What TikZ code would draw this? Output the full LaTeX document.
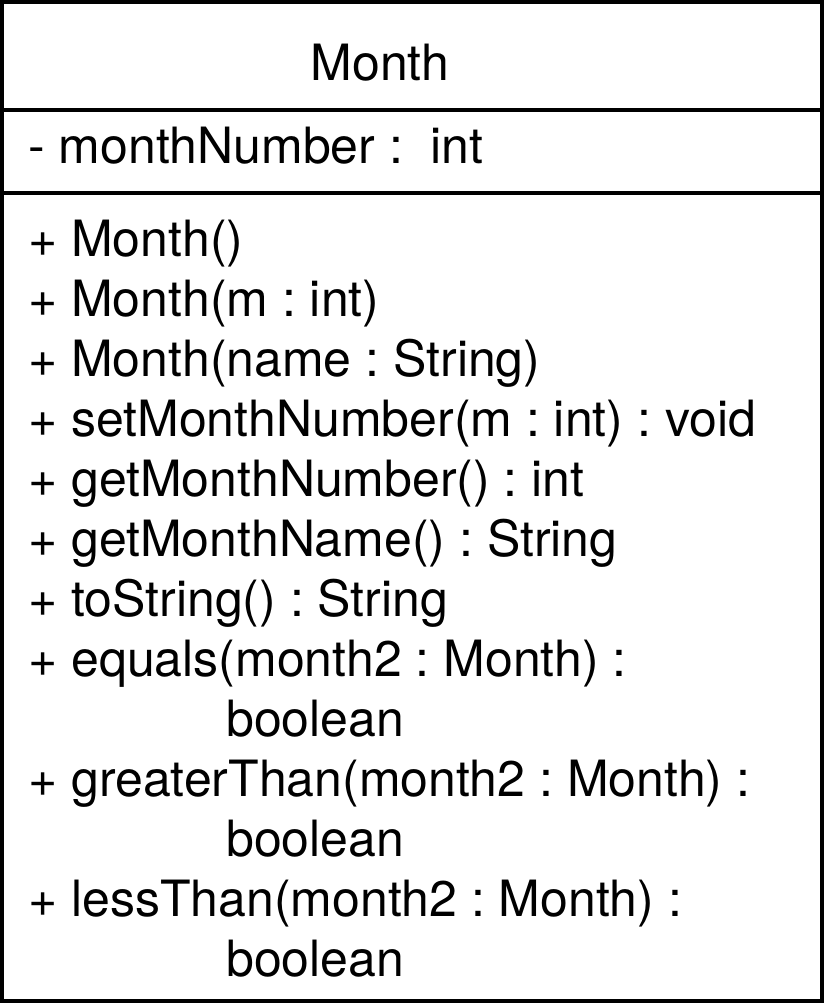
\documentclass[tikz,border=0pt]{standalone}
\usepackage{fontspec}
\setmainfont{TeX Gyre Heros}
\frenchspacing
\begin{document}
\begin{tikzpicture}[x=1pt,y=-1pt,
  frame/.style={line width=4pt},
  member/.style={anchor=base west,inner sep=0pt,font=\fontsize{50}{60}\selectfont},
  title/.style={anchor=base,inner sep=0pt,font=\fontsize{50}{60}\selectfont}]
\useasboundingbox (0,0) rectangle (825,1007);
% class box and compartment separators
\draw[frame] (2,2) rectangle (822,1001);
\draw[frame] (2,109.5) -- (822,109.5);
\draw[frame] (2,193) -- (822,193);
% class name
\node[title] (name) at (380,80) {Month};
% attribute
\node[member] (attr) at (28,163) {- monthNumber :\ \ int};
% operations
\node[member] (m1) at (28,256) {+ Month()};
\node[member] (m2) at (28,316) {+ Month(m : int)};
\node[member] (m3) at (28,376) {+ Month(name : String)};
\node[member] (m4) at (28,436) {+ setMonthNumber(m : int) : void};
\node[member] (m5) at (28,496) {+ getMonthNumber() : int};
\node[member] (m6) at (28,556) {+ getMonthName() : String};
\node[member] (m7) at (28,616) {+ toString() : String};
\node[member] (m8) at (28,676) {+ equals(month2 : Month) :};
\node[member] (m8b) at (226,736) {boolean};
\node[member] (m9) at (28,796) {+ greaterThan(month2 : Month) :};
\node[member] (m9b) at (226,856) {boolean};
\node[member] (m10) at (28,916) {+ lessThan(month2 : Month) :};
\node[member] (m10b) at (226,976) {boolean};
\end{tikzpicture}
\end{document}
